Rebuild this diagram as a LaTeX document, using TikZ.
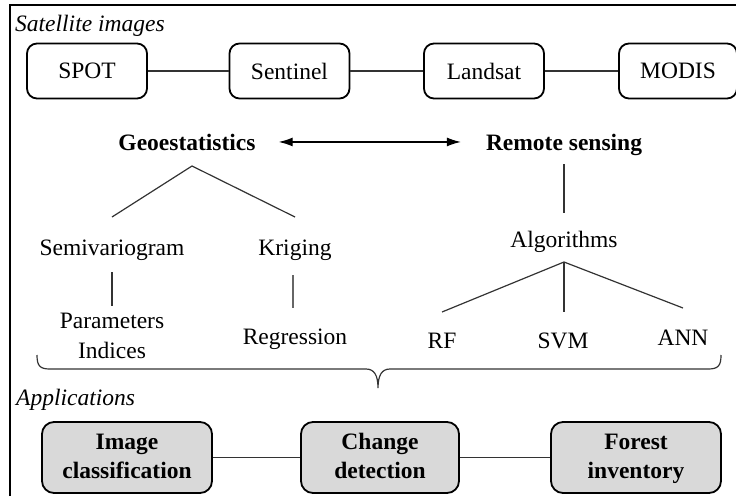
\documentclass[tikz,border=0pt]{standalone}
\usepackage{fontspec}
\setmainfont{Liberation Serif}
\usetikzlibrary{arrows.meta}
\newcommand{\lnstrut}{\rule[-6pt]{0pt}{24.5pt}}
\begin{document}
\begin{tikzpicture}[x=1pt,y=-1pt,
  every node/.style={inner sep=0pt, font=\fontsize{23.5}{29.5}\selectfont},
  satbox/.style={draw, line width=1.8pt, rounded corners=10pt, minimum width=120pt, minimum height=55pt},
  appbox/.style={draw, line width=1.8pt, rounded corners=12pt, fill=gray!30, minimum height=71pt, align=center, font=\fontsize{23.5}{29.5}\selectfont\bfseries},
  conn/.style={line width=1.2pt, draw=black!80},
  lbl/.style={anchor=base},
  hdr/.style={anchor=base, font=\fontsize{23.5}{29.5}\selectfont\bfseries},
  sect/.style={anchor=base west, font=\fontsize{23.5}{29.5}\selectfont\itshape},
  dblarrow/.style={conn, draw=black, >={Latex[length=14pt,width=9pt]}, <->}
]
\useasboundingbox (0,0) rectangle (736,496);
\draw[line width=1.5pt] (10,496) -- (10,5) -- (736,5);

% satellite images
\node[sect] (sat) at (15,31) {Satellite images};
\node[satbox] (spot) at (87,71) {SPOT};
\node[satbox] (sent) at (289.5,71) {Sentinel};
\node[satbox] (land) at (484,71) {Landsat};
\node[satbox, minimum width=118pt] (modis) at (678,71) {MODIS};
\draw[conn] (spot) -- (sent);
\draw[conn] (sent) -- (land);
\draw[conn] (land) -- (modis);

% headers
\node[hdr] (geo) at (187,150) {Geoestatistics};
\node[hdr] (rs) at (564,150) {Remote sensing};
\draw[dblarrow] ([xshift=23pt]geo.east) -- ([xshift=-25pt]geo.east -| rs.west);

% geostatistics tree
\node[lbl] (semi) at (112,255) {Semivariogram};
\node[lbl] (krig) at (295,255) {Kriging};
\node[align=center] (par) at (112,337) {Parameters\lnstrut\\Indices\lnstrut};
\node[lbl] (reg) at (295,344) {Regression};
\coordinate (gA) at (192,166);
\coordinate (gL) at (112,217);
\coordinate (gR) at (295,217);
\draw[conn] (gL) -- (gA) -- (gR);
\coordinate (s1) at (112,272);
\coordinate (s2) at (112,306);
\draw[conn] (s1) -- (s2);
\coordinate (k1) at (293,275);
\coordinate (k2) at (293,308);
\draw[conn, draw=black!60] (k1) -- (k2);

% remote sensing tree
\node[lbl] (alg) at (564,247) {Algorithms};
\coordinate (r1) at (564,164);
\coordinate (r2) at (564,213);
\draw[conn] (r1) -- (r2);
\node[lbl] (rf) at (442,348) {RF};
\node[lbl] (svm) at (563,348) {SVM};
\node[lbl] (ann) at (683,345) {ANN};
\coordinate (aA) at (564,262);
\coordinate (aL) at (442,312);
\coordinate (aM) at (564,312);
\coordinate (aR) at (683,308);
\draw[conn] (aL) -- (aA) -- (aR);
\draw[conn] (aA) -- (aM);

% brace
\draw[conn] (37,355) .. controls (37,366) and (40,369) .. (50,369) -- (366,369)
  .. controls (374,369) and (378,375) .. (378,388)
  .. controls (378,375) and (382,369) .. (390,369) -- (708,369)
  .. controls (718,369) and (721,366) .. (721,355);

% applications
\node[sect] (appl) at (16,405) {Applications};
\node[appbox, minimum width=170pt] (img) at (127,457.5) {Image\lnstrut\\classification\lnstrut};
\node[appbox, minimum width=158pt] (chg) at (380,457.5) {Change\lnstrut\\detection\lnstrut};
\node[appbox, minimum width=170pt] (forest) at (636,457.5) {Forest\lnstrut\\inventory\lnstrut};
\draw[conn] (img) -- (chg);
\draw[conn] (chg) -- (forest);
\end{tikzpicture}
\end{document}
